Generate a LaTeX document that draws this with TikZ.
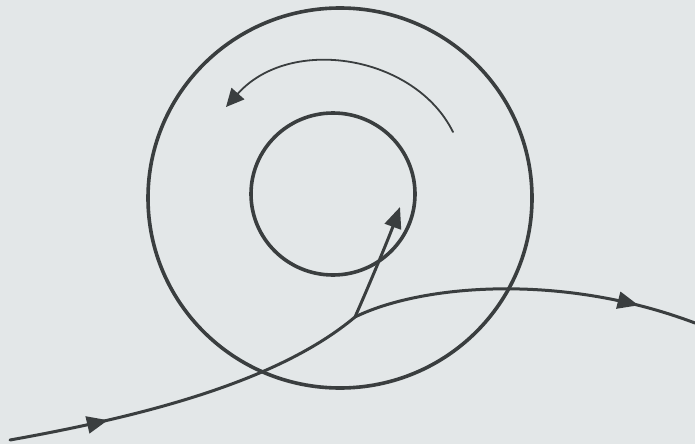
\documentclass[tikz,border=0pt]{standalone}
\usetikzlibrary{arrows.meta,decorations.markings}
\definecolor{bgcol}{HTML}{E3E7E8}
\definecolor{inkcol}{HTML}{3A3E3F}
\tikzset{
  ring/.style={draw=inkcol, line width=3.6pt},
  flow/.style={draw=inkcol, line width=3pt, line cap=round},
  thinflow/.style={draw=inkcol, line width=1.8pt, line cap=round},
  bigtip/.tip={Triangle[length=21pt,width=17pt]},
  midarrow/.style={postaction={decorate},
    decoration={markings, mark=at position #1 with {\arrow{bigtip}}}}
}
\begin{document}
\begin{tikzpicture}[x=1pt,y=-1pt]
\useasboundingbox (0,0) rectangle (695,444);
\fill[bgcol] (0,0) rectangle (695,444);
% named points
\coordinate (outerC) at (340,198);
\coordinate (innerC) at (333,194);
\coordinate (start) at (10,440);
\coordinate (junc) at (355,317);
\coordinate (tip) at (400,207);
\coordinate (rend) at (695,323);
\coordinate (arcS) at (453,132);
\coordinate (arcE) at (226,107);
% circles
\draw[ring] (outerC) ellipse [x radius=192pt, y radius=190pt];
\draw[ring] (innerC) ellipse [x radius=82pt, y radius=81pt];
% rotation arrow
\draw[thinflow, -{Triangle[length=18pt,width=17pt]}] (arcS) .. controls (415,55) and (290,35) .. (arcE);
% incoming curve
\draw[flow, midarrow=0.27] (start) .. controls (150,415) and (280,380) .. (junc);
% branch into inner circle
\draw[flow, -{bigtip}] (junc) .. controls (367,290) and (388,240) .. (tip);
% outgoing branch
\draw[flow, midarrow=0.83] (junc) .. controls (420,285) and (560,272) .. (rend);
\end{tikzpicture}
\end{document}
